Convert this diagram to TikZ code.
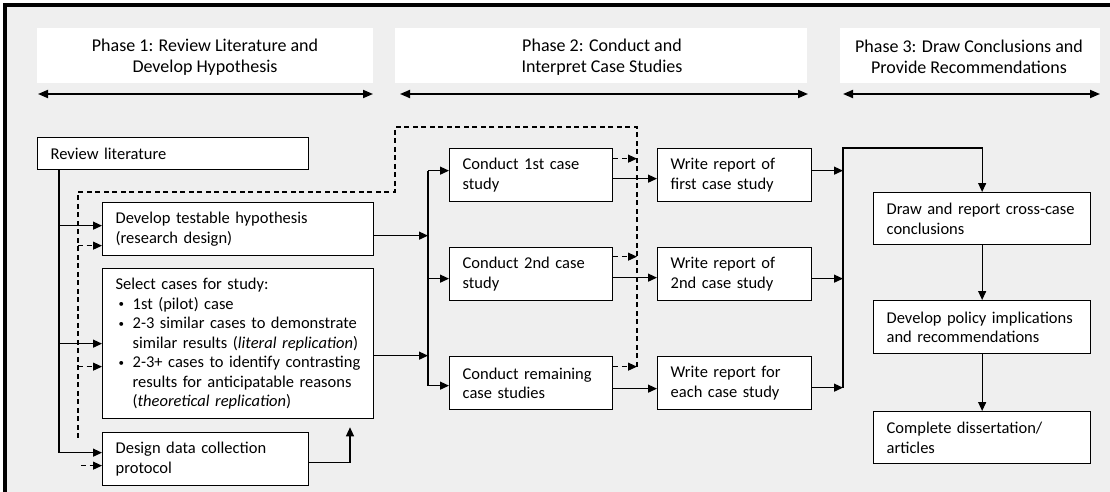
\documentclass[tikz,border=0pt]{standalone}
\usepackage{fontspec}
\setmainfont{Carlito}
\usetikzlibrary{arrows.meta,calc}
\definecolor{pagebg}{HTML}{EFEFEF}
\newcommand{\bodyfont}{\fontsize{16.5}{19.5}\selectfont}
\newcommand{\headfont}{\fontsize{18}{21}\selectfont}
\newcommand{\bul}{\hspace*{3pt}\makebox[14pt][l]{\raisebox{1.5pt}{\fontsize{11}{11}\selectfont\textbullet}}}
\begin{document}
\begin{tikzpicture}[x=1pt,y=-1pt,
  box/.style n args={3}{draw=black, line width=1.3pt, fill=white, anchor=north west,
    align=left, inner xsep=13pt, inner ysep=0pt, font=\bodyfont,
    minimum width=#1pt, minimum height=#2pt, text width=#3pt},
  phase/.style={align=center, font=\headfont, inner sep=0pt},
  tip/.style={-{Triangle[length=9pt,width=8pt]}},
  line/.style={line width=1.2pt},
  arr/.style={line, tip},
  fb/.style={line width=1.1pt, dash pattern=on 5pt off 3.5pt},
  fbarr/.style={fb, tip},
  span/.style={line width=1.8pt, {Triangle[length=10pt,width=8pt]}-{Triangle[length=10pt,width=8pt]}}]
\useasboundingbox (0,0) rectangle (1110,492);

% page and frame
\fill[white] (0,0) rectangle (1110,492);
\fill[pagebg] (5,5) rectangle (1110,492);
\draw[line width=3.5pt] (5,492) -- (5,5) -- (1110,5);

% phase headings
\fill[white] (37,28) rectangle (373,83);
\fill[white] (395,28) rectangle (807,83);
\fill[white] (840,28) rectangle (1100,83);
\node[phase] (ph1) at (205,57) {Phase 1: Review Literature and\\Develop Hypothesis};
\node[phase] (ph2) at (602,57) {Phase 2: Conduct and\\Interpret Case Studies};
\node[phase] (ph3) at (969,57) {Phase 3: Draw Conclusions and\\Provide Recommendations};
\coordinate (s1a) at (38,94);  \coordinate (s1b) at (373,94);
\coordinate (s2a) at (400,94); \coordinate (s2b) at (808,94);
\coordinate (s3a) at (843,94); \coordinate (s3b) at (1100,94);
\draw[span] (s1a) -- (s1b);
\draw[span] (s2a) -- (s2b);
\draw[span] (s3a) -- (s3b);

% phase 1 boxes
\node[box={271}{32}{245}] (rev) at (37,137) {Review literature};
\node[box={271}{53}{245}] (hyp) at (102,202) {Develop testable hypothesis\\(research design)};
\node[box={271}{150}{245}] (sel) at (102,268) {Select cases for study:\\
\bul 1st (pilot) case\\
\bul 2-3 similar cases to demonstrate\\
\hspace*{17pt}similar results (\textit{literal replication})\\
\bul 2-3+ cases to identify contrasting\\
\hspace*{17pt}results for anticipatable reasons\\
\hspace*{17pt}(\textit{theoretical replication})};
\node[box={206}{53}{180}] (dat) at (102,432) {Design data collection\\protocol};

% phase 2 boxes
\node[box={163}{53}{137}] (c1) at (449,148) {Conduct 1st case\\study};
\node[box={163}{53}{137}] (c2) at (449,247) {Conduct 2nd case\\study};
\node[box={163}{53}{137}] (c3) at (449,356) {Conduct remaining\\case studies};
\node[box={152}{53}{128}] (w1) at (657,148) {Write report of\\first case study};
\node[box={152}{53}{128}] (w2) at (657,247) {Write report of\\2nd case study};
\node[box={152}{53}{128}] (w3) at (657,356) {Write report for\\each case study};

% phase 3 boxes
\node[box={217}{52}{191}] (dr) at (873,192) {Draw and report cross-case\\conclusions};
\node[box={217}{53}{191}] (pol) at (873,300) {Develop policy implications\\and recommendations};
\node[box={217}{52}{191}] (cmp) at (873,411) {Complete dissertation/\\articles};

% trunk positions
\coordinate (lx) at (59,0);
\coordinate (mx) at (428,0);
\coordinate (rx) at (843,0);
\coordinate (ux) at (350,0);

% literature review feeds the three design tasks
\coordinate (hypin) at ($(hyp.west)+(0,-3.5)$);
\coordinate (datin) at ($(dat.west)+(0,-6.5)$);
\draw[arr] (rev.south -| lx) |- (datin);
\draw[arr] (hypin -| lx) -- (hypin);
\draw[arr] (sel.west -| lx) -- (sel.west);

% protocol informs case selection
\coordinate (datout) at ($(dat.east)+(0,3.5)$);
\draw[arr, shorten >=8pt] (datout) -| (ux |- sel.south);

% design outputs to the case studies
\coordinate (hypout) at ($(hyp.east)+(0,6.5)$);
\coordinate (selout) at ($(sel.east)+(0,12)$);
\draw[arr] (hypout) -- (hypout -| mx);
\draw[arr] (selout) -- (selout -| mx);
\coordinate (c1in) at ($(c1.west)+(0,-4.5)$);
\coordinate (c2in) at ($(c2.west)+(0,4.5)$);
\coordinate (c3in) at ($(c3.west)+(0,2.5)$);
\draw[line] (c1in -| mx) -- (c3in -| mx);
\draw[arr] (c1in -| mx) -- (c1in);
\draw[arr] (c2in -| mx) -- (c2in);
\draw[arr] (c3in -| mx) -- (c3in);

% case studies to reports
\draw[arr] ($(c1.east)+(0,3.5)$) -- ($(w1.west)+(0,3.5)$);
\draw[arr] ($(c2.east)+(0,3.5)$) -- ($(w2.west)+(0,3.5)$);
\draw[arr] ($(c3.east)+(0,5.5)$) -- ($(w3.west)+(0,5.5)$);

% reports to cross-case analysis
\coordinate (w1o) at ($(w1.east)+(0,-4.5)$);
\coordinate (w2o) at ($(w2.east)+(0,4.5)$);
\coordinate (w3o) at ($(w3.east)+(0,4.5)$);
\draw[arr] (w1o) -- (w1o -| rx);
\draw[arr] (w2o) -- (w2o -| rx);
\draw[arr] (w3o) -- (w3o -| rx);
\draw[arr] (w3o -| rx) -- (rx |- w1.north) -| (dr.north);
\draw[arr] (dr) -- (pol);
\draw[arr] (pol) -- (cmp);

% feedback loop (dashed)
\coordinate (fb1) at (637,127);
\coordinate (fb2) at (395,127);
\coordinate (fb3) at (395,192);
\coordinate (fb4) at (78,192);
\coordinate (fb5) at (78,440);
\coordinate (c1o) at ($(c1.east)+(0,-16.5)$);
\coordinate (c2o) at ($(c2.east)+(0,-17.5)$);
\coordinate (c3o) at ($(c3.east)+(0,-16.5)$);
\draw[fbarr] (c1o) -- (c1o -| fb1);
\draw[fbarr] (c2o) -- (c2o -| fb1);
\draw[fbarr] (c3o) -- (c3o -| fb1);
\draw[fb] (c3o -| fb1) -- (fb1) -- (fb2) -- (fb3) -- (fb4) -- (fb5);
\coordinate (hypfb) at ($(hyp.west)+(0,16.5)$);
\coordinate (selfb) at ($(sel.west)+(0,23)$);
\coordinate (datfb) at ($(dat.west)+(0,6.5)$);
\draw[fbarr] (hypfb -| fb4) -- (hypfb);
\draw[fbarr] (selfb -| fb4) -- (selfb);
\draw[fbarr] ($(datfb)+(-21,0)$) -- (datfb);
\end{tikzpicture}
\end{document}
